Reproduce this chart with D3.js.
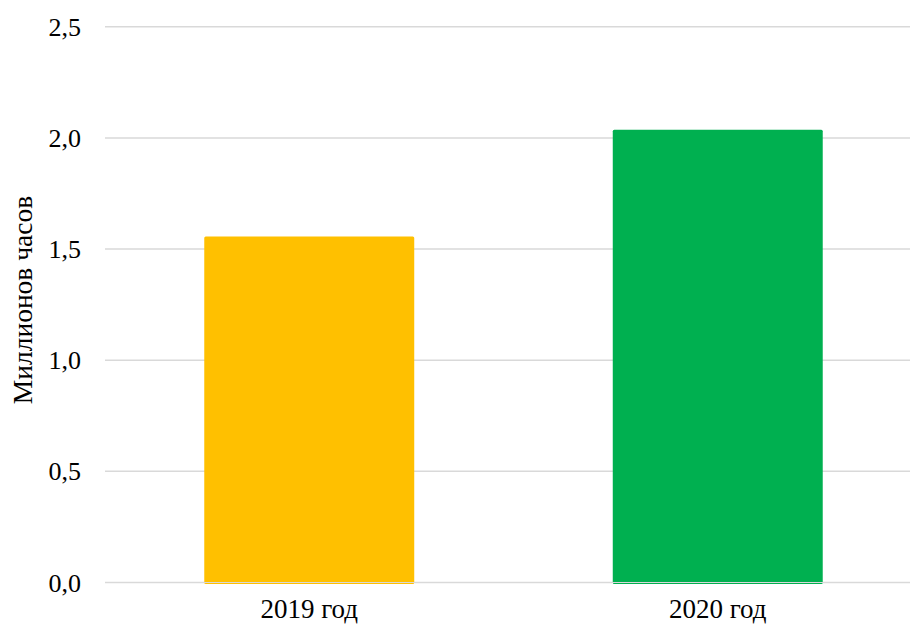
<!DOCTYPE html>
<html><head><meta charset="utf-8">
<script src="https://cdn.jsdelivr.net/npm/d3@7"></script>
<style>body{margin:0;background:#fff;}svg{display:block;}</style>
</head><body>
<svg id="c" width="910" height="625"></svg>
<script>
const categories = ["2019 год", "2020 год"];
const values = [1.557, 2.037];
const colors = ["#FFC000", "#00B050"];
const yTicks = [0, 0.5, 1.0, 1.5, 2.0, 2.5];
const yLabel = "Миллионов часов";

const svg = d3.select("#c");
const font = "Liberation Serif, Times New Roman, serif";
const x = d3.scaleBand().domain(categories).range([105, 922]).paddingInner(0.486).paddingOuter(0.243);
const y = d3.scaleLinear().domain([0, 2.5]).range([582.5, 26.8]);

svg.append("g").selectAll("line").data(yTicks).join("line")
  .attr("x1", 105).attr("x2", 910)
  .attr("y1", d => y(d)).attr("y2", d => y(d))
  .attr("stroke", "#d9d9d9").attr("stroke-width", 1.5);

svg.append("g").selectAll("rect").data(values).join("rect")
  .attr("x", (d, i) => x(categories[i]))
  .attr("width", x.bandwidth())
  .attr("y", d => y(d))
  .attr("height", d => y(0) - y(d) + 1.5)
  .attr("rx", 1.5)
  .attr("fill", (d, i) => colors[i]);

svg.append("line").attr("x1", 105).attr("x2", 910).attr("y1", y(0)).attr("y2", y(0))
  .attr("stroke", "#d9d9d9").attr("stroke-width", 1.2);

const fmt = d => d3.format(".1f")(d).replace(".", ",");
svg.append("g").selectAll("text").data(yTicks).join("text")
  .attr("x", 81).attr("y", d => y(d)).attr("dy", "0.35em")
  .attr("text-anchor", "end")
  .attr("font-family", font).attr("font-size", 26).attr("fill", "#000")
  .text(fmt);

svg.append("g").selectAll("text").data(categories).join("text")
  .attr("x", d => x(d) + x.bandwidth() / 2).attr("y", 618)
  .attr("text-anchor", "middle")
  .attr("font-family", font).attr("font-size", 27).attr("fill", "#000")
  .text(d => d);

svg.append("text")
  .attr("transform", "translate(31.5,300) rotate(-90)")
  .attr("text-anchor", "middle")
  .attr("font-family", font).attr("font-size", 27.5).attr("fill", "#000")
  .text(yLabel);
</script>
</body></html>
